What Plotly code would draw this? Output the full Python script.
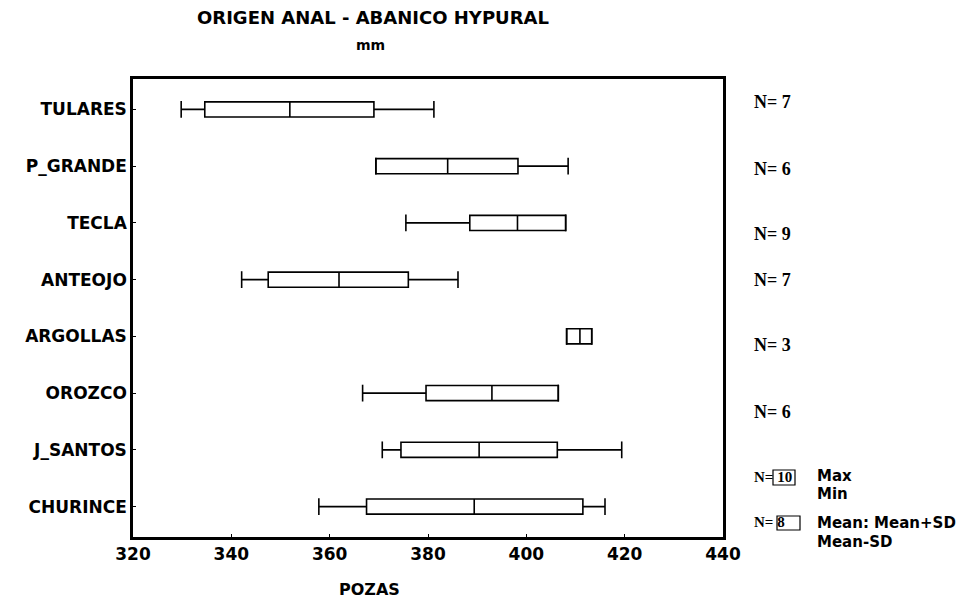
import plotly.graph_objects as go

# values (mm)
pozas = ['TULARES', 'P_GRANDE', 'TECLA', 'ANTEOJO', 'ARGOLLAS', 'OROZCO', 'J_SANTOS', 'CHURINCE']
v_min = [329.8, 369.4, 375.5, 342.1, 408.2, 366.7, 370.7, 357.8]
v_max = [381.2, 408.5, 408.0, 386.1, 413.3, 406.5, 419.4, 416.0]
mean_minus_sd = [334.6, 369.4, 388.5, 347.5, 408.2, 379.6, 374.5, 367.5]
mean = [351.9, 384.0, 398.2, 361.9, 410.9, 393.0, 390.4, 389.4]
mean_plus_sd = [369.0, 398.3, 408.0, 376.0, 413.3, 406.5, 406.3, 411.5]
n_labels = ['N= 7', 'N= 6', 'N= 9', 'N= 7', 'N= 3', 'N= 6']
n_label_py = [102, 169, 234, 280, 345, 412]

# page pixels of the plot area (the page body adds an 8px offset)
OFF = 8
L, R, T, B = 133, 723, 79, 537
W, H = 971 - OFF, 600 - OFF


def px(x):
    return (x - L) / (R - L)


def py(y):
    return (B - y) / (B - T)


SANS = 'DejaVu Sans, sans-serif'
SERIF = 'Times New Roman, Liberation Serif, serif'

fig = go.Figure()
fig.add_box(
    y=pozas, q1=mean_minus_sd, median=mean, q3=mean_plus_sd,
    lowerfence=v_min, upperfence=v_max,
    orientation='h', fillcolor='white',
    line=dict(color='black', width=1.6),
    whiskerwidth=0, boxpoints=False, hoverinfo='skip',
)
# whisker caps
fig.add_scatter(
    x=v_min + v_max, y=pozas + pozas, mode='markers',
    marker=dict(symbol='line-ns', size=12, line=dict(color='black', width=1.6)),
    hoverinfo='skip',
)

fig.update_yaxes(
    type='category', categoryorder='array', categoryarray=pozas[::-1],
    showline=True, linecolor='black', linewidth=2.5, mirror=True,
    ticks='inside', ticklen=3, tickcolor='black', showgrid=False,
    tickfont=dict(family=SANS, size=17, color='black', weight='bold'),
)
fig.update_xaxes(
    range=[320, 440], tickvals=[320, 340, 360, 380, 400, 420, 440],
    showline=True, linecolor='black', linewidth=2.5, mirror=True,
    ticks='inside', ticklen=3, tickcolor='black', showgrid=False, zeroline=False,
    tickfont=dict(family=SANS, size=17, color='black', weight='bold'),
)

ann = []
ann.append(dict(text='ORIGEN ANAL - ABANICO HYPURAL', x=px(373), y=py(17),
                font=dict(family=SANS, size=18, color='black', weight='bold')))
ann.append(dict(text='mm', x=px(370), y=py(45),
                font=dict(family=SANS, size=14, color='black', weight='bold')))
ann.append(dict(text='POZAS', x=px(369), y=py(589),
                font=dict(family=SANS, size=16, color='black', weight='bold')))
for t, yy in zip(n_labels, n_label_py):
    ann.append(dict(text=t, x=px(752), y=py(yy), xanchor='left',
                    font=dict(family=SERIF, size=18, color='black', weight='bold')))
# legend block
ann.append(dict(text='N= 10', x=px(752), y=py(477), xanchor='left',
                font=dict(family=SERIF, size=15, color='black', weight='bold')))
ann.append(dict(text='N= 8', x=px(752), y=py(522), xanchor='left',
                font=dict(family=SERIF, size=15, color='black', weight='bold')))
for t, yy in [('Max', 476), ('Min', 494), ('Mean: Mean+SD', 523), ('Mean-SD', 542)]:
    ann.append(dict(text=t, x=px(815), y=py(yy), xanchor='left',
                    font=dict(family=SANS, size=15, color='black', weight='bold')))
for a in ann:
    a.update(xref='paper', yref='paper', showarrow=False, yanchor='middle')
    a.setdefault('xanchor', 'center')

shapes = [
    dict(type='rect', xref='paper', yref='paper', x0=px(773), x1=px(795), y0=py(485), y1=py(470),
         line=dict(color='black', width=1.2)),
    dict(type='rect', xref='paper', yref='paper', x0=px(777), x1=px(800), y0=py(530), y1=py(516),
         line=dict(color='black', width=1.2)),
]

fig.update_layout(
    width=W, height=H,
    margin=dict(l=L - OFF, r=W - (R - OFF), t=T - OFF, b=H - (B - OFF)),
    plot_bgcolor='white', paper_bgcolor='white',
    showlegend=False, boxgap=0.62,
    annotations=ann, shapes=shapes,
)

fig.write_html('out.html')
